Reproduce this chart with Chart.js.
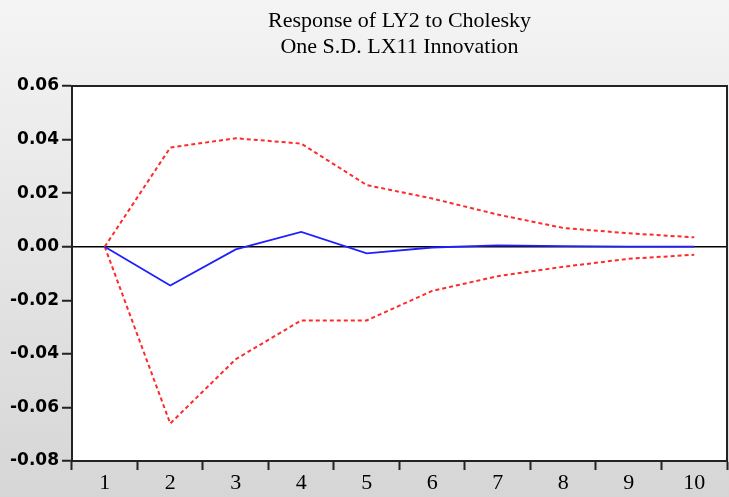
<!DOCTYPE html>
<html>
<head>
<meta charset="utf-8">
<script src="https://cdn.jsdelivr.net/npm/chart.js@4.4.1/dist/chart.umd.min.js"></script>
<style>
  html, body { margin: 0; padding: 0; }
  #wrap { width: 729px; height: 497px; }
</style>
</head>
<body>
<div id="wrap"><canvas id="chart-irf" width="729" height="497"></canvas></div>
<script>
// Impulse response LY2 <- LX11, dengan batas +/- 2 S.E.
const periode   = ['1', '2', '3', '4', '5', '6', '7', '8', '9', '10'];
const respon    = [0.000, -0.0145, -0.001, 0.0055, -0.0025, -0.0003, 0.0005, 0.0002, 0.0000, 0.0000];
const batasAtas = [0.000, 0.037, 0.0405, 0.0385, 0.023, 0.018, 0.012, 0.007, 0.005, 0.0035];
const batasBawah = [0.000, -0.066, -0.042, -0.0275, -0.0275, -0.0165, -0.011, -0.0075, -0.0045, -0.003];
const judul = ['Response of LY2 to Cholesky', 'One S.D. LX11 Innovation'];

const SERIF = '"Liberation Serif", "Times New Roman", serif';
const SANS  = '"DejaVu Sans", sans-serif';

// latar abu-abu bergradasi + area plot putih + bingkai
const latarPlugin = {
    id: 'latar',
    beforeDraw(chart) {
        const { ctx, chartArea: a, width, height } = chart;
        ctx.save();
        const g = ctx.createLinearGradient(0, 0, 0, height);
        g.addColorStop(0, '#f4f4f4');
        g.addColorStop(1, '#d6d6d6');
        ctx.fillStyle = g;
        ctx.fillRect(0, 0, width, height);
        ctx.fillStyle = '#ffffff';
        ctx.fillRect(a.left, a.top, a.right - a.left, a.bottom - a.top);
        ctx.restore();
    },
    afterDraw(chart) {
        const { ctx, chartArea: a } = chart;
        ctx.save();
        ctx.strokeStyle = '#222';
        ctx.lineWidth = 2;
        ctx.strokeRect(a.left, a.top, a.right - a.left, a.bottom - a.top);
        // judul di tengah area plot
        ctx.fillStyle = '#000';
        ctx.font = '22px ' + SERIF;
        ctx.textAlign = 'center';
        ctx.textBaseline = 'middle';
        const cx = (a.left + a.right) / 2;
        ctx.fillText(judul[0], cx, 21);
        ctx.fillText(judul[1], cx, 47);
        ctx.restore();
    }
};

const garisMerah = {
    borderColor: '#ff2a2a',
    borderWidth: 2,
    borderDash: [4, 3],
    pointRadius: 0,
    fill: false,
    tension: 0
};

new Chart(document.getElementById('chart-irf').getContext('2d'), {
    type: 'line',
    data: {
        labels: periode,
        datasets: [
            { label: 'Respon', data: respon, borderColor: '#1f1fff', borderWidth: 1.8, pointRadius: 0, tension: 0 },
            Object.assign({ label: '+2 S.E.', data: batasAtas }, garisMerah),
            Object.assign({ label: '-2 S.E.', data: batasBawah }, garisMerah)
        ]
    },
    options: {
        responsive: false,
        animation: false,
        layout: { padding: { top: 86, right: 2, left: 7, bottom: 1 } },
        plugins: {
            legend: { display: false },
            title: { display: false },
            tooltip: { enabled: false }
        },
        scales: {
            x: {
                offset: true,
                grid: {
                    offset: true,
                    drawOnChartArea: false,
                    tickLength: 9,
                    tickColor: '#222',
                    tickWidth: 2
                },
                border: { display: true, color: '#222', width: 2 },
                ticks: {
                    color: '#000',
                    font: { family: SERIF, size: 22, lineHeight: 1 },
                    padding: 2,
                    maxRotation: 0
                }
            },
            y: {
                min: -0.08,
                max: 0.06,
                grid: {
                    color: c => (Math.abs(c.tick.value) < 1e-9 ? '#000' : 'rgba(0,0,0,0)'),
                    lineWidth: 1.5,
                    tickLength: 10,
                    tickColor: '#222',
                    tickWidth: 2
                },
                border: { display: true, color: '#222', width: 2 },
                ticks: {
                    stepSize: 0.02,
                    color: '#000',
                    font: { family: SANS, size: 17, weight: 'bold' },
                    padding: 3,
                    callback: v => v.toFixed(2)
                }
            }
        }
    },
    plugins: [latarPlugin]
});
</script>
</body>
</html>
